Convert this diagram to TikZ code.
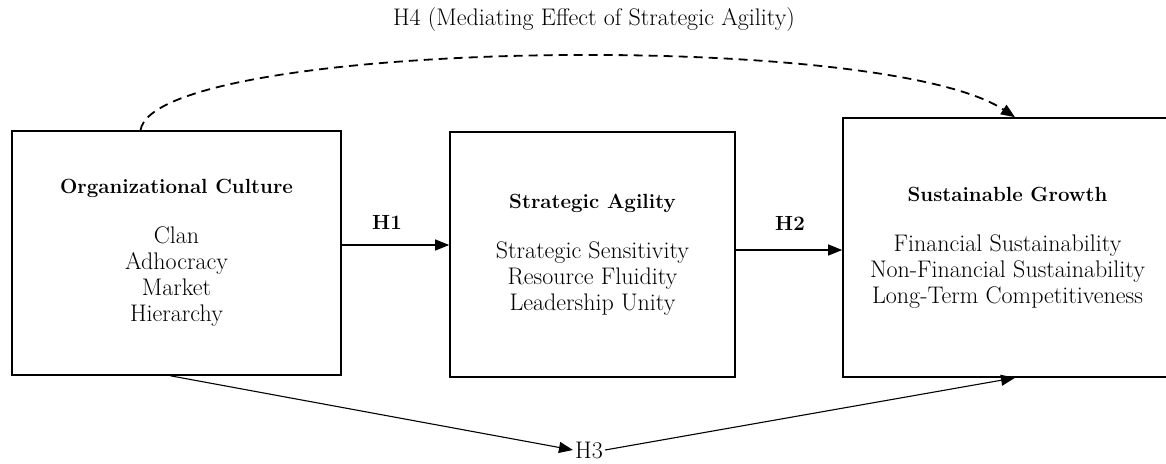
\documentclass[tikz,border=0pt]{standalone}
\usetikzlibrary{arrows.meta}
\begin{document}
\begin{tikzpicture}[x=1pt,y=-1pt,
  txt/.style={font=\fontsize{24}{26}\selectfont},
  box/.style={draw,line width=1.6pt,align=center,inner sep=0pt,txt},
  conn/.style={line width=1.1pt,-{Triangle[length=14pt,width=11pt]}},
  hlab/.style={font=\fontsize{20.5}{24}\selectfont\bfseries,inner sep=1pt}]
\useasboundingbox (0,0) rectangle (1166,463);
\clip (0,0) rectangle (1166,463);
\node[box,minimum width=329pt,minimum height=244pt] (oc) at (176.5,253)
  {{\fontsize{20.5}{26}\selectfont\bfseries Organizational Culture}\\[24pt]Clan\\Adhocracy\\Market\\Hierarchy};
\node[box,minimum width=285pt,minimum height=245pt] (sa) at (592.5,254.5)
  {{\fontsize{20.5}{26}\selectfont\bfseries Strategic Agility}\\[24pt]Strategic Sensitivity\\Resource Fluidity\\Leadership Unity};
\node[box,minimum width=329pt,minimum height=259pt] (sg) at (1007.5,247.5)
  {{\fontsize{20.5}{26}\selectfont\bfseries Sustainable Growth}\\[24pt]Financial Sustainability\\Non-Financial Sustainability\\Long-Term Competitiveness};
\node[hlab] (h1) at (387,222) {H1};
\node[hlab] (h2) at (790,223) {H2};
\node[txt,inner sep=2pt] (h3) at (589,450) {H3};
\node[txt] (h4) at (594,20) {H4 (Mediating Effect of Strategic Agility)};
\draw[conn] ([yshift=8pt]oc.east) -- ([yshift=8pt]oc.east -| sa.west);
\draw[conn] ([yshift=4.5pt]sa.east) -- ([yshift=4.5pt]sa.east -| sg.west);
\draw[conn] ([xshift=-6pt]oc.south) -- (h3.west);
\draw[conn] (h3.east) -- ([xshift=7.5pt]sg.south);
\draw[line width=1.8pt,dash pattern=on 9pt off 6pt,-{Triangle[length=14pt,width=11pt]}]
  ([xshift=-36pt]oc.north) .. controls (155,40) and (880,28) .. ([xshift=7.5pt]sg.north);
\end{tikzpicture}
\end{document}
